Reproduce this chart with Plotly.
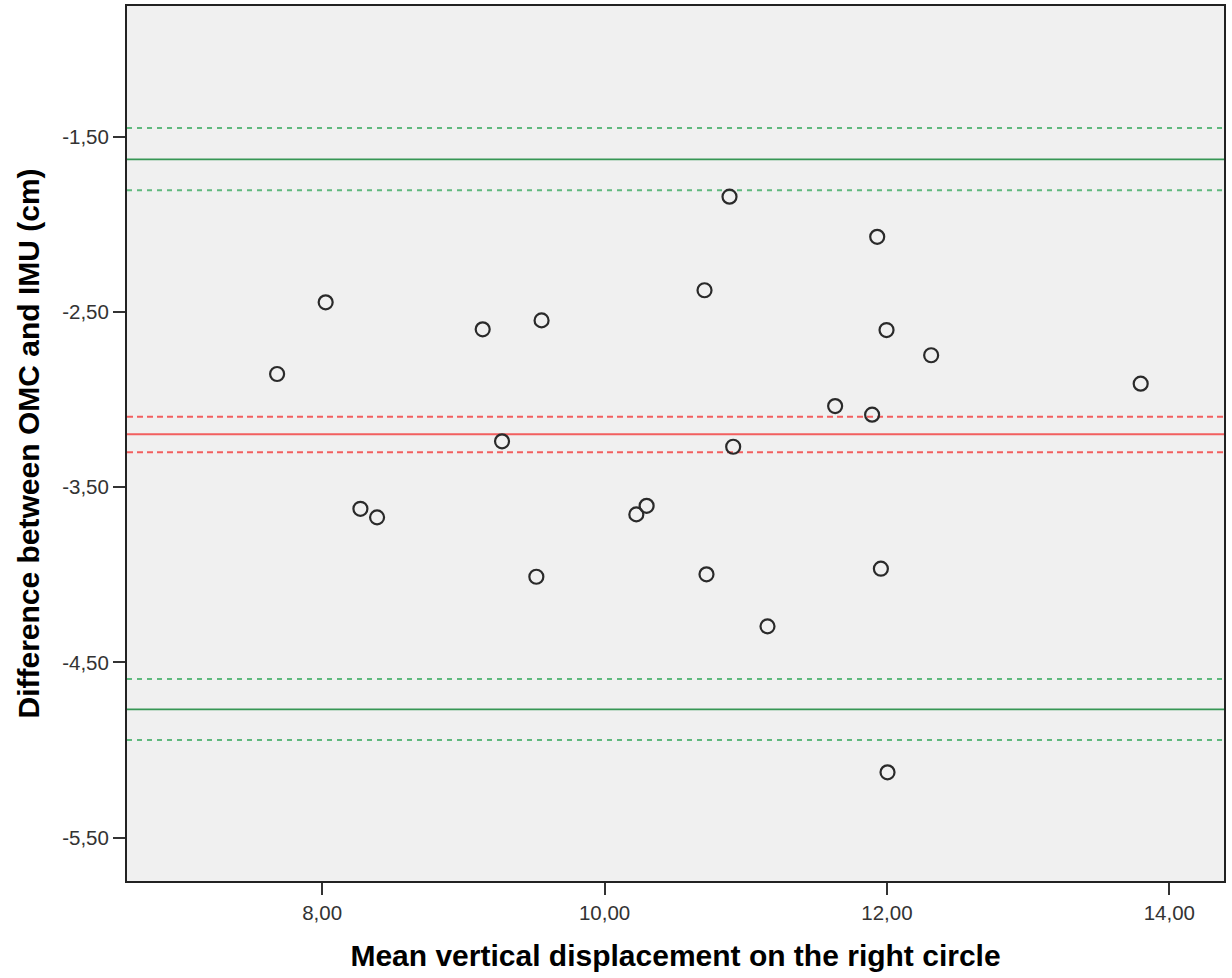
import plotly.graph_objects as go

# Data
mean_vals = [7.681, 8.025, 8.271, 8.389, 9.137, 9.274, 9.517, 9.554,
             10.225, 10.298, 10.708, 10.722, 10.885, 10.911, 11.154,
             11.633, 11.895, 11.931, 11.957, 11.997, 12.004, 12.313, 13.797]
diff_vals = [-2.854, -2.445, -3.623, -3.672, -2.599, -3.238, -4.011, -2.548,
             -3.655, -3.606, -2.376, -3.997, -1.842, -3.269, -4.294,
             -3.037, -3.086, -2.071, -3.965, -2.603, -5.127, -2.747, -2.909]

mean_diff = -3.198
mean_ci = [-3.098, -3.301]
upper_loa = -1.629
upper_loa_ci = [-1.450, -1.806]
lower_loa = -4.768
lower_loa_ci = [-4.594, -4.943]

x_tickvals = [8, 10, 12, 14]
x_ticktext = ["8,00", "10,00", "12,00", "14,00"]
y_tickvals = [-1.5, -2.5, -3.5, -4.5, -5.5]
y_ticktext = ["-1,50", "-2,50", "-3,50", "-4,50", "-5,50"]

x_range = [6.618, 14.387]
y_range = [-5.747, -0.754]

fig = go.Figure()

GREEN = "rgb(55,150,85)"
GREEN_D = "rgb(95,185,125)"
RED = "rgb(242,95,95)"

# reference lines
for yv in [upper_loa, lower_loa]:
    fig.add_hline(y=yv, line=dict(color=GREEN, width=1.8), layer="below")
for yv in upper_loa_ci + lower_loa_ci:
    fig.add_hline(y=yv, line=dict(color=GREEN_D, width=2, dash="5px,5px"), layer="below")
fig.add_hline(y=mean_diff, line=dict(color=RED, width=2), layer="below")
for yv in mean_ci:
    fig.add_hline(y=yv, line=dict(color=RED, width=2, dash="6px,4px"), layer="below")

fig.add_trace(go.Scatter(
    x=mean_vals, y=diff_vals, mode="markers",
    marker=dict(symbol="circle-open", size=14, color="#2a2a2a",
                line=dict(width=2.2, color="#2a2a2a")),
    showlegend=False, hoverinfo="x+y"))

fig.update_layout(
    width=1232, height=978,
    margin=dict(l=127, r=8, t=6, b=97, autoexpand=False),
    paper_bgcolor="white",
    plot_bgcolor="#f0f0f0",
    font=dict(family="Liberation Sans, Arial, sans-serif", color="#333333"),
    showlegend=False,
)

fig.update_xaxes(
    range=x_range, tickvals=x_tickvals, ticktext=x_ticktext,
    showgrid=False, zeroline=False,
    showline=True, linecolor="#222222", linewidth=2, mirror=True,
    ticks="outside", ticklen=12, tickwidth=2, tickcolor="#333333",
    tickfont=dict(size=20.5, color="#333333"),
    title=dict(text="<b>Mean vertical displacement on the right circle</b>",
               font=dict(size=30, color="black"), standoff=22),
)
fig.update_yaxes(
    range=y_range, tickvals=y_tickvals, ticktext=y_ticktext,
    showgrid=False, zeroline=False,
    showline=True, linecolor="#222222", linewidth=2, mirror=True,
    ticks="outside", ticklen=12, tickwidth=2, tickcolor="#333333",
    tickfont=dict(size=20.5, color="#333333"),
    title=dict(text="<b>Difference between OMC and IMU (cm)</b>",
               font=dict(size=30, color="black"), standoff=14),
)

fig.write_html("out.html",
               config={"displayModeBar": False},
               post_script="document.body.style.margin='0';document.body.style.overflow='hidden';")
